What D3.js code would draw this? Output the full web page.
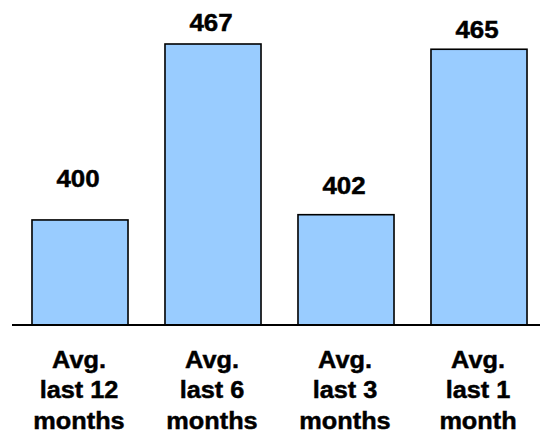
<!DOCTYPE html>
<html>
<head>
<meta charset="utf-8">
<script src="https://cdn.jsdelivr.net/npm/d3@7"></script>
<style>
  html, body { margin: 0; padding: 0; background: #ffffff; }
  svg { display: block; }
  text { font-family: "Liberation Sans", Arial, sans-serif; font-weight: bold; fill: #000; stroke: #000; stroke-width: 0.45px; }
</style>
</head>
<body>
<svg id="chart" width="540" height="435"></svg>
<script>
// Average values per period
const categories = ["Avg. last 12 months", "Avg. last 6 months", "Avg. last 3 months", "Avg. last 1 month"];
const labelLines = [
  ["Avg.", "last 12", "months"],
  ["Avg.", "last 6", "months"],
  ["Avg.", "last 3", "months"],
  ["Avg.", "last 1", "month"]
];
const values = [400, 467, 402, 465];

// Layout
const width = 540, height = 435;
const baseY = 325;
const valueLift = [33, 13, 21, 11];   // gap between bar top and its value label

const svg = d3.select("#chart");

const x = d3.scaleBand()
  .domain(categories)
  .range([13.5, 545.5])
  .paddingInner(0.278)
  .paddingOuter(0.139);

const y = d3.scaleLinear()
  .domain([360, 467])
  .range([baseY, 44]);

// Bars
svg.append("g")
  .selectAll("rect")
  .data(values)
  .join("rect")
  .attr("x", (d, i) => x(categories[i]))
  .attr("y", d => y(d))
  .attr("width", x.bandwidth())
  .attr("height", d => baseY - y(d))
  .attr("fill", "#99CCFF")
  .attr("stroke", "#000")
  .attr("stroke-width", 1.6);

// Baseline
svg.append("line")
  .attr("x1", 12).attr("x2", width)
  .attr("y1", baseY).attr("y2", baseY)
  .attr("stroke", "#000")
  .attr("stroke-width", 2);

// Value labels
svg.append("g")
  .selectAll("text")
  .data(values)
  .join("text")
  .attr("text-anchor", "middle")
  .attr("font-size", 24)
  .attr("transform", (d, i) =>
    `translate(${x(categories[i]) + x.bandwidth() / 2 - 2},${y(d) - valueLift[i]}) scale(1.08,1)`)
  .text(d => d3.format("d")(d));

// Category labels
const cat = svg.append("g")
  .selectAll("text")
  .data(categories)
  .join("text")
  .attr("text-anchor", "middle")
  .attr("font-size", 23)
  .attr("transform", d => `translate(${x(d) + x.bandwidth() / 2 - 1},0) scale(1.1,1)`);

cat.selectAll("tspan")
  .data((d, i) => labelLines[i])
  .join("tspan")
  .attr("x", 0)
  .attr("y", (d, j) => 368 + j * 30.5)
  .text(d => d);
</script>
</body>
</html>
